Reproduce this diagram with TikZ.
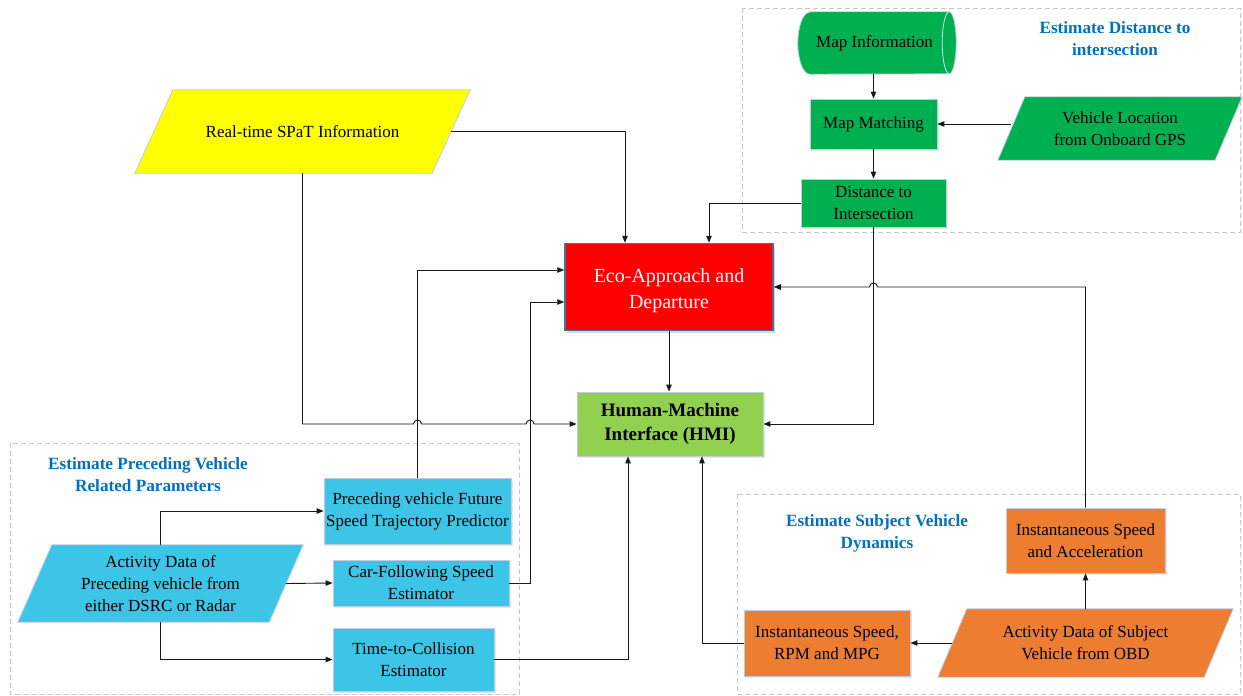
\documentclass[tikz,border=0pt]{standalone}
\usepackage{fontspec}
\setmainfont{Liberation Serif}
\usetikzlibrary{arrows.meta,backgrounds,shadows,calc}
\definecolor{spatY}{RGB}{255,255,0}
\definecolor{grn}{RGB}{0,176,80}
\definecolor{hmiG}{RGB}{146,208,80}
\definecolor{cyanB}{RGB}{61,197,232}
\definecolor{orng}{RGB}{237,125,49}
\definecolor{bord}{RGB}{190,205,228}
\definecolor{ecoB}{RGB}{65,113,156}
\definecolor{ttl}{RGB}{0,112,192}
\definecolor{lnC}{RGB}{25,25,25}
\definecolor{grpC}{RGB}{200,200,200}
\begin{document}
\begin{tikzpicture}[x=1pt,y=-1pt,
  txt/.style={font=\fontsize{17}{22}\selectfont, align=center, inner sep=0pt},
  blk/.style={txt, draw=bord, line width=0.8pt, drop shadow={shadow xshift=1.5pt,shadow yshift=-1.5pt,opacity=0.2}},
  paraF/.style={draw=bord, line width=0.8pt},
  arr/.style={draw=lnC, line width=0.9pt, -{Triangle[length=7pt,width=5.5pt]}},
  grp/.style={draw=grpC, line width=0.9pt, dash pattern=on 5pt off 3pt},
  ttlS/.style={font=\fontsize{17.2}{22}\selectfont\bfseries, text=ttl, align=center, inner sep=0pt}]
\useasboundingbox (0,0) rectangle (1243,696);

% groups
\draw[grp] (742,8) rectangle (1240,232);
\draw[grp] (10,443) rectangle (519,694);
\draw[grp] (737,494) rectangle (1240,694);

\node[ttlS] (t1) at (1115,39) {Estimate Distance to\\intersection};
\node[ttlS] (t2) at (148,475) {Estimate Preceding Vehicle\\Related Parameters};
\node[ttlS] (t3) at (877,533) {Estimate Subject Vehicle\\Dynamics};

% nodes
\node[txt, minimum width=335, minimum height=83] (spat) at (302.5,131.5) {Real-time SPaT Information};
\node[txt, fill=red, draw=ecoB, line width=1.5pt, minimum width=208, minimum height=87,
      font=\fontsize{20}{26}\selectfont, text=white,
      drop shadow={shadow xshift=2pt,shadow yshift=-2pt,opacity=0.3}] (eco) at (669,287) {\rule{0pt}{22pt}Eco-Approach and\\Departure};
\node[blk, fill=hmiG, minimum width=186, minimum height=64, font=\fontsize{19}{24}\selectfont\bfseries] (hmi) at (670,424) {Human-Machine\\Interface (HMI)};

\node[txt, minimum width=158, minimum height=62] (mapinfo) at (877,43) {\hspace*{-5pt}Map Information};
\node[blk, fill=grn, minimum width=127, minimum height=50] (mapmatch) at (873.5,124) {Map Matching};
\node[txt, minimum width=244, minimum height=63] (vloc) at (1120,128.5) {Vehicle Location\\from Onboard GPS};
\node[blk, fill=grn, minimum width=145, minimum height=48] (dist) at (873.5,203) {Distance to\\Intersection};

\node[txt, minimum width=285, minimum height=77] (actp) at (160.5,583.5) {Activity Data of\\Preceding vehicle from\\either DSRC or Radar};
\node[blk, fill=cyanB, minimum width=187, minimum height=66] (fut) at (417.5,511) {Preceding vehicle Future\\Speed Trajectory Predictor};
\node[blk, fill=cyanB, minimum width=176, minimum height=46] (carf) at (421,583) {Car-Following Speed\\Estimator};
\node[blk, fill=cyanB, minimum width=161, minimum height=63] (ttc) at (413.5,659.5) {Time-to-Collision\\Estimator};

\node[blk, fill=orng, minimum width=159, minimum height=65] (isa) at (1085.5,540.5) {Instantaneous Speed\\and Acceleration};
\node[txt, minimum width=295, minimum height=68] (acts) at (1085.5,643) {Activity Data of Subject\\Vehicle from OBD};
\node[blk, fill=orng, minimum width=166, minimum height=66] (rpm) at (827,643) {Instantaneous Speed,\\RPM and MPG};

% shapes drawn behind the texts
\begin{scope}[on background layer]
 \path[fill=spatY, paraF] ([xshift=38pt]spat.north west) -- (spat.north east) -- ([xshift=-38pt]spat.south east) -- (spat.south west) -- cycle;
 \path[fill=grn, paraF] ([xshift=27pt]vloc.north west) -- (vloc.north east) -- ([xshift=-27pt]vloc.south east) -- (vloc.south west) -- cycle;
 \path[fill=cyanB, paraF] ([xshift=34pt]actp.north west) -- (actp.north east) -- ([xshift=-34pt]actp.south east) -- (actp.south west) -- cycle;
 \path[fill=orng, paraF] ([xshift=29pt]acts.north west) -- (acts.north east) -- ([xshift=-29pt]acts.south east) -- (acts.south west) -- cycle;
 \path[fill=grn, paraF] ([xshift=12pt]mapinfo.north west) -- ([xshift=-7pt]mapinfo.north east)
   arc[start angle=-90,end angle=90,x radius=7,y radius=31] -- ([xshift=12pt]mapinfo.south west)
   arc[start angle=90,end angle=270,x radius=12,y radius=31] -- cycle;
 \draw[bord!60!white, line width=0.8pt] ([xshift=-7pt]mapinfo.north east) arc[start angle=-90,end angle=-270,x radius=7,y radius=31];
\end{scope}

% connectors
\draw[arr] ([xshift=-19pt]spat.east) -| ([xshift=-44pt]eco.north);
\draw[arr] (spat.south) |- (413.5,424) arc[start angle=180,end angle=360,radius=4] -- (526,424) arc[start angle=180,end angle=360,radius=4] -- (hmi.west);
\draw[arr] (dist.west) -| ([xshift=40pt]eco.north);
\draw[arr] (dist.south) |- (hmi.east);
\draw[arr] (isa.north) |- (877.5,287) arc[start angle=0,end angle=-180,radius=4] -- (eco.east);
\draw[arr] (eco.south) -- (eco.south |- hmi.north);
\draw[arr] (mapinfo.south -| mapmatch.north) -- (mapmatch.north);
\draw[arr] (mapmatch.south) -- (dist.north);
\draw[arr] ($(vloc.west)+(13.5,-4.5)$) -- (mapmatch.east);
\draw[arr] (actp.north) |- (fut.west);
\draw[arr] ([xshift=-17pt]actp.east) -- (carf.west);
\draw[arr] (actp.south) |- (ttc.west);
\draw[arr] (fut.north) |- ([yshift=17pt]eco.west);
\draw[arr] (carf.east) -- ++(21,0) |- ([yshift=-15pt]eco.west);
\draw[arr] (ttc.east) -| ([xshift=-42pt]hmi.south);
\draw[arr] (acts.north) -- (isa.south);
\draw[arr] ([xshift=14.5pt]acts.west) -- (rpm.east);
\draw[arr] (rpm.west) -| ([xshift=32pt]hmi.south);
\end{tikzpicture}
\end{document}
